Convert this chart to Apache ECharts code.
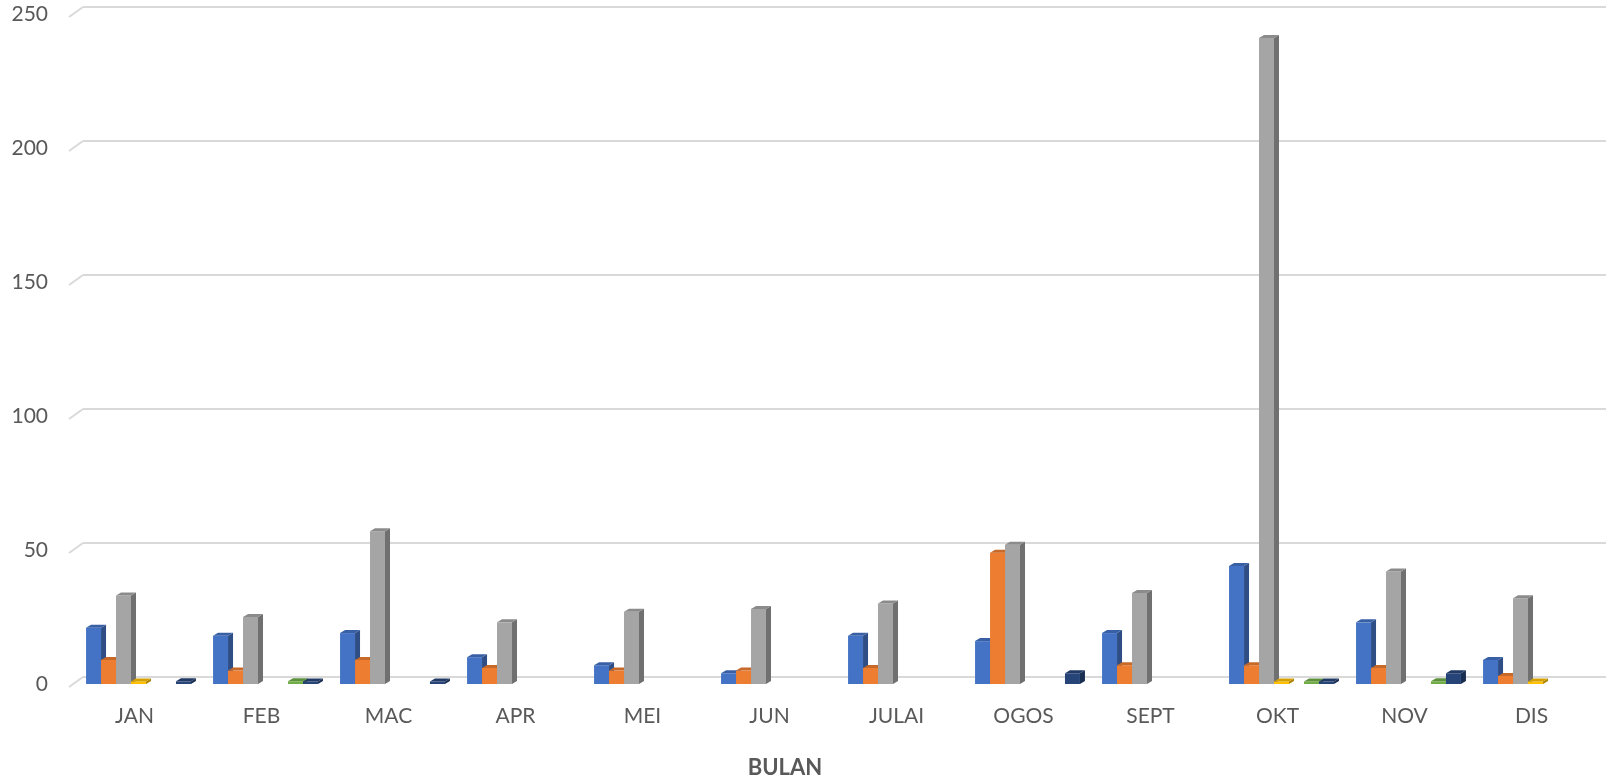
<!DOCTYPE html>
<html>
<head>
<meta charset="utf-8">
<script src="https://cdn.jsdelivr.net/npm/echarts@6/dist/echarts.min.js"></script>
<style>
  html, body { margin: 0; padding: 0; background: #fff; }
  #chart { width: 1606px; height: 783px; }
</style>
</head>
<body>
<div id="chart"></div>
<script>
// bulan
const months = ['JAN', 'FEB', 'MAC', 'APR', 'MEI', 'JUN', 'JULAI', 'OGOS', 'SEPT', 'OKT', 'NOV', 'DIS'];
const yTicks = [0, 50, 100, 150, 200, 250];

// nilai setiap siri (null = tiada bar)
const s1 = [21, 18, 19, 10, 7, 4, 18, 16, 19, 44, 23, 9];
const s2 = [9, 5, 9, 6, 5, 5, 6, 49, 7, 7, 6, 3];
const s3 = [33, 25, 57, 23, 27, 28, 30, 52, 34, 241, 42, 32];
const s4 = [0, null, null, null, null, null, null, null, null, 0, null, 0];
const s5 = [null, null, null, null, null, null, null, null, null, null, null, null];
const s6 = [null, 1, null, null, null, null, null, null, null, 0, 1, null];
const s7 = [1, 0, 0, null, null, null, null, 4, null, 0, 4, null];

const seriesData = [s1, s2, s3, s4, s5, s6, s7];
const colors = ['#4472C4', '#ED7D31', '#A5A5A5', '#FFC000', '#5B9BD5', '#70AD47', '#264478'];

const font = 'Lato, "Open Sans", sans-serif';
const chart = echarts.init(document.getElementById('chart'), null, { renderer: 'canvas' });

// gelapkan warna
function shade(hex, f) {
  const n = parseInt(hex.slice(1), 16);
  const r = Math.round(((n >> 16) & 255) * f);
  const g = Math.round(((n >> 8) & 255) * f);
  const b = Math.round((n & 255) * f);
  return 'rgb(' + r + ',' + g + ',' + b + ')';
}

// bar 3D ringkas: muka depan, sisi dan atas
function columnRenderer(idx, color) {
  const side = shade(color, 0.68);
  const topc = shade(color, 0.84);
  return function (params, api) {
    const cat = api.value(0);
    const v = api.value(1);
    const top = api.coord([cat, v]);
    const base = api.coord([cat, 0]);
    const band = api.size([1, 0])[0];
    const w = band * 0.118;
    const x0 = base[0] - w * 3.5 + idx * w;
    const h = Math.max(base[1] - top[1], 2.5);
    const yTop = base[1] - h;
    const dx = 5, dy = 3;
    return {
      type: 'group',
      children: [
        { type: 'rect', shape: { x: x0, y: yTop, width: w, height: h }, style: { fill: color } },
        { type: 'polygon', shape: { points: [[x0 + w, yTop], [x0 + w + dx, yTop - dy], [x0 + w + dx, base[1] - dy], [x0 + w, base[1]]] }, style: { fill: side } },
        { type: 'polygon', shape: { points: [[x0, yTop], [x0 + dx, yTop - dy], [x0 + w + dx, yTop - dy], [x0 + w, yTop]] }, style: { fill: topc } }
      ]
    };
  };
}

const series = seriesData.map(function (arr, i) {
  const data = [];
  arr.forEach(function (v, k) { if (v !== null) data.push([k, v]); });
  return {
    name: 'S' + (i + 1),
    type: 'custom',
    xAxisIndex: 0,
    yAxisIndex: 0,
    renderItem: columnRenderer(i, colors[i]),
    encode: { x: 0, y: 1 },
    data: data,
    z: 3
  };
});

// garis condong di dinding kiri
series.push({
  type: 'custom',
  xAxisIndex: 0,
  yAxisIndex: 0,
  silent: true,
  z: 1,
  data: yTicks.map(function (t) { return [0, t]; }),
  encode: { x: 0, y: 1 },
  renderItem: function (params, api) {
    const p = api.coord([0, api.value(1)]);
    const x = params.coordSys.x;
    return {
      type: 'line',
      shape: { x1: x - 6, y1: p[1] + 3, x2: x + 8, y2: p[1] - 7 },
      style: { stroke: '#D9D9D9', lineWidth: 2 }
    };
  }
});

const option = {
  animation: false,
  backgroundColor: '#fff',
  grid: [
    { left: 75, right: 7, top: 14, bottom: 99 },
    { left: 83, right: 0, top: 7, bottom: 106 }
  ],
  xAxis: [
    {
      type: 'category',
      gridIndex: 0,
      data: months,
      axisLine: { show: false },
      axisTick: { show: false },
      axisLabel: {
        margin: 22,
        fontSize: 21,
        fontFamily: font,
        color: '#595959',
        padding: [0, 8, 0, 0]
      }
    },
    { type: 'value', gridIndex: 1, show: false, min: 0, max: 1 }
  ],
  yAxis: [
    {
      type: 'value',
      gridIndex: 0,
      min: 0,
      max: 250,
      interval: 50,
      axisLine: { show: false },
      axisTick: { show: false },
      splitLine: { show: false },
      axisLabel: { margin: 27, fontSize: 21, fontFamily: font, color: '#595959' }
    },
    {
      type: 'value',
      gridIndex: 1,
      min: 0,
      max: 250,
      interval: 50,
      axisLine: { show: false },
      axisTick: { show: false },
      axisLabel: { show: false },
      splitLine: { lineStyle: { color: '#D9D9D9', width: 2 } }
    }
  ],
  graphic: [{
    type: 'text',
    x: 785,
    y: 768,
    style: {
      text: 'BULAN',
      align: 'center',
      verticalAlign: 'middle',
      font: 'bold 22px ' + font,
      fill: '#595959'
    }
  }],
  series: series
};

chart.setOption(option);
</script>
</body>
</html>
